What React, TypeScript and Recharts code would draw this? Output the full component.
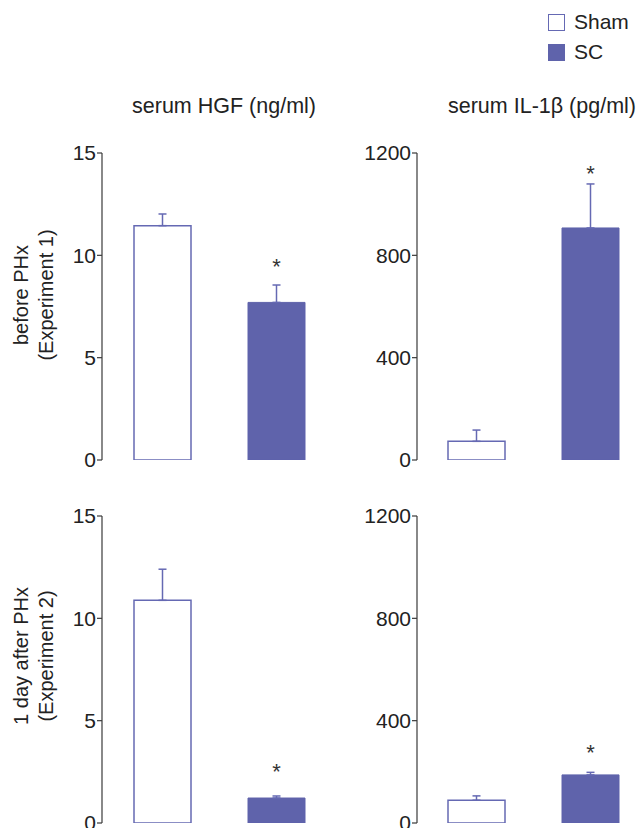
import React from "react";
import { BarChart, Bar, XAxis, YAxis, ErrorBar } from "recharts";

const FONT = '"Liberation Sans", Arial, Helvetica, sans-serif';
const SHAM_STROKE = "#6569b3";
const SC_FILL = "#5f63ab";
const AXIS = "#3a3a3a";
const TEXT = "#222";

const groups = ["Sham", "SC"];

// serum HGF (ng/ml)
const hgfBefore = [11.45, 7.7];
const hgfBeforeErr = [0.57, 0.85];
const hgfAfter = [10.88, 1.22];
const hgfAfterErr = [1.52, 0.1];

// serum IL-1b (pg/ml)
const il1bBefore = [73, 907];
const il1bBeforeErr = [44, 172];
const il1bAfter = [89, 188];
const il1bAfterErr = [17, 10];

// level of the "*" mark above the SC bar, per panel
const starBefore = [9.62, 1134];
const starAfter = [2.67, 290];

const hgfTicks = [0, 5, 10, 15];
const il1bTicks = [0, 400, 800, 1200];

const makeRows = (vals: number[], errs: number[], star: number) => [
  {
    name: "serum",
    sham: vals[0],
    sc: vals[1],
    shamErr: [0, errs[0]],
    scErr: [0, errs[1]],
    gap: star - vals[1],
  },
];

const Star = (props: any) => {
  const vb = props.viewBox || props;
  const x = vb.x ?? props.x;
  const y = vb.y ?? props.y;
  const w = vb.width ?? props.width;
  return (
    <text
      x={x + w / 2}
      y={y + 11}
      textAnchor="middle"
      fontSize={22}
      fill="#333"
      fontFamily={FONT}
    >
      *
    </text>
  );
};

type PanelProps = {
  vals: number[];
  errs: number[];
  star: number;
  ticks: number[];
  left: number;
  top: number;
  width: number;
  height: number;
  mRight: number;
  mBottom: number;
};

const Panel: React.FC<PanelProps> = ({
  vals,
  errs,
  star,
  ticks,
  left,
  top,
  width,
  height,
  mRight,
  mBottom,
}) => {
  const data = makeRows(vals, errs, star);
  const max = ticks[ticks.length - 1];
  return (
    <div style={{ position: "absolute", left, top }}>
      <BarChart
        width={width}
        height={height}
        data={data}
        margin={{ top: 13, right: mRight, bottom: mBottom, left: 0 }}
        barSize={57}
        barGap={57}
        barCategoryGap={0}
      >
        <XAxis
          dataKey="name"
          tick={false}
          tickLine={false}
          height={0}
          padding={{ left: 9, right: 0 }}
          axisLine={{ stroke: "#555", strokeWidth: 1.2 }}
        />
        <YAxis
          width={62}
          domain={[0, max]}
          ticks={ticks}
          interval={0}
          allowDataOverflow
          tickSize={5}
          tickMargin={1}
          axisLine={{ stroke: AXIS, strokeWidth: 1.2 }}
          tickLine={{ stroke: AXIS, strokeWidth: 1.2 }}
          tick={{ fontSize: 21, fill: TEXT, fontFamily: FONT }}
        />
        <Bar
          dataKey="sham"
          name={groups[0]}
          stackId="sham"
          fill="#ffffff"
          stroke={SHAM_STROKE}
          strokeWidth={1.5}
          isAnimationActive={false}
        >
          <ErrorBar
            dataKey="shamErr"
            width={4}
            stroke={SHAM_STROKE}
            strokeWidth={1.5}
            direction="y"
          />
        </Bar>
        <Bar
          dataKey="sc"
          name={groups[1]}
          stackId="sc"
          fill={SC_FILL}
          stroke={SC_FILL}
          strokeWidth={1}
          isAnimationActive={false}
        >
          <ErrorBar
            dataKey="scErr"
            width={4}
            stroke={SHAM_STROKE}
            strokeWidth={1.5}
            direction="y"
          />
        </Bar>
        <Bar
          dataKey="gap"
          stackId="sc"
          fill="transparent"
          isAnimationActive={false}
          label={Star}
        />
      </BarChart>
    </div>
  );
};

const SideLabel: React.FC<{ lines: string[]; cy: number }> = ({ lines, cy }) => (
  <div
    style={{
      position: "absolute",
      left: 34,
      top: cy,
      width: 220,
      transform: "translate(-50%, -50%) rotate(-90deg)",
      textAlign: "center",
      fontSize: 20,
      lineHeight: "25px",
      color: TEXT,
    }}
  >
    {lines.map((l) => (
      <div key={l}>{l}</div>
    ))}
  </div>
);

const Title: React.FC<{ text: string; cx: number }> = ({ text, cx }) => (
  <div
    style={{
      position: "absolute",
      left: cx - 150,
      top: 94,
      width: 300,
      textAlign: "center",
      fontSize: 21.5,
      lineHeight: "24px",
      color: TEXT,
      whiteSpace: "nowrap",
    }}
  >
    {text}
  </div>
);

const LegendItem: React.FC<{ label: string; top: number; filled: boolean }> = ({
  label,
  top,
  filled,
}) => (
  <div
    style={{
      position: "absolute",
      left: 548,
      top,
      display: "flex",
      alignItems: "center",
      height: 18,
    }}
  >
    <div
      style={{
        width: 15,
        height: 15,
        border: `1.5px solid ${filled ? SC_FILL : SHAM_STROKE}`,
        background: filled ? SC_FILL : "#fff",
      }}
    />
    <span style={{ marginLeft: 9, fontSize: 21, color: TEXT }}>{label}</span>
  </div>
);

export default function App() {
  return (
    <div
      style={{
        position: "absolute",
        left: 0,
        top: 0,
        width: 640,
        height: 830,
        overflow: "hidden",
        background: "#fff",
        fontFamily: FONT,
      }}
    >
      <LegendItem label={groups[0]} top={13} filled={false} />
      <LegendItem label={groups[1]} top={43} filled />

      <Title text="serum HGF (ng/ml)" cx={224} />
      <Title text="serum IL-1β (pg/ml)" cx={542} />

      <SideLabel lines={["before PHx", "(Experiment 1)"]} cy={295} />
      <SideLabel lines={["1 day after PHx", "(Experiment 2)"]} cy={656} />

      <Panel
        vals={hgfBefore}
        errs={hgfBeforeErr}
        star={starBefore[0]}
        ticks={hgfTicks}
        left={40}
        top={140}
        width={300}
        height={340}
        mRight={13}
        mBottom={20}
      />
      <Panel
        vals={il1bBefore}
        errs={il1bBeforeErr}
        star={starBefore[1]}
        ticks={il1bTicks}
        left={355}
        top={140}
        width={285}
        height={340}
        mRight={0}
        mBottom={20}
      />
      <Panel
        vals={hgfAfter}
        errs={hgfAfterErr}
        star={starAfter[0]}
        ticks={hgfTicks}
        left={40}
        top={503}
        width={300}
        height={325}
        mRight={13}
        mBottom={5}
      />
      <Panel
        vals={il1bAfter}
        errs={il1bAfterErr}
        star={starAfter[1]}
        ticks={il1bTicks}
        left={355}
        top={503}
        width={285}
        height={325}
        mRight={0}
        mBottom={5}
      />
    </div>
  );
}
